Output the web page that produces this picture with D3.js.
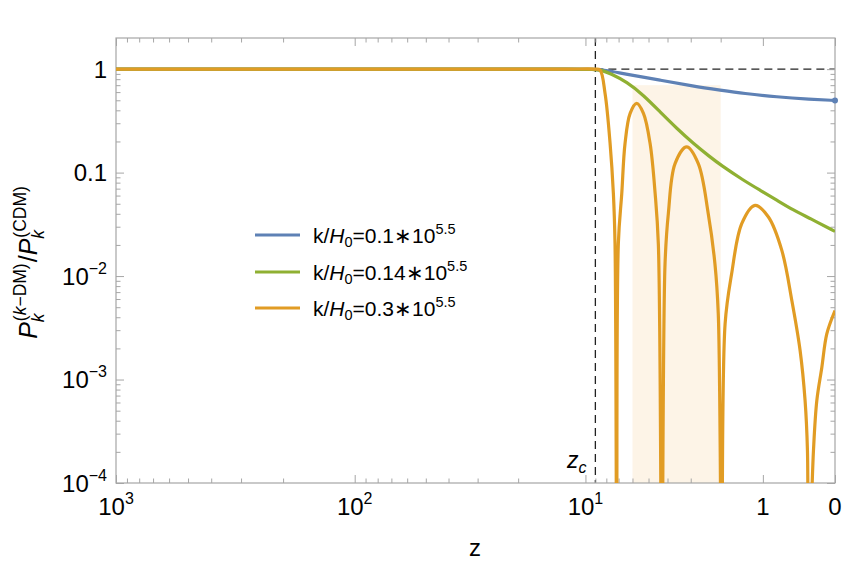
<!DOCTYPE html>
<html><head><meta charset="utf-8">
<script src="https://cdn.jsdelivr.net/npm/d3@7"></script>
<style>body{margin:0;background:#fff} text{font-family:"Liberation Sans",Arial,sans-serif;fill:#000}</style>
</head><body><svg id="c" width="843" height="569"></svg>
<script>
// ---------- data ----------
const xMajorZ = [1000, 100, 10, 1, 0];
const xMajorBase = ["10", "10", "10", "1", "0"];
const xMajorExp = ["3", "2", "1", "", ""];
const xMinorZ = [900,800,700,600,500,400,300,200,90,80,70,60,50,40,30,20,9,8,7,6,5,4,3,2];
const yMajor = [1, 0.1, 0.01, 0.001, 0.0001];
const yMajorBase = ["1", "0.1", "10", "10", "10"];
const yMajorExp = ["", "", "−2", "−3", "−4"];
const zc = 9;
const bandZ = [6, 2];
const bandTop = 0.7;

const legendK = ["0.1", "0.14", "0.3"];
const colors = ["#5e81b5", "#8fb032", "#e19c24"];

const blueZ = [1000, 100, 20, 12, 9, 8, 6.39, 4.37, 2.90, 1.99, 1.41, 0.749, 0.27, 0];
const blueV = [1, 1, 1, 1, 1, 0.975, 0.89, 0.783, 0.685, 0.626, 0.582, 0.539, 0.512, 0.498];

const greenZ = [1000, 100, 20, 12, 9, 8.4, 7.68, 6.39, 5.30, 4.37, 3.57, 2.90, 2.32, 1.99, 1.41, 1.05, 0.749, 0.50, 0.27, 0];
const greenV = [1, 1, 1, 1, 1, 0.975, 0.909, 0.753, 0.560, 0.386, 0.267, 0.191, 0.1416, 0.1177, 0.0842, 0.0674, 0.0541, 0.0436, 0.0361, 0.027];

const orangeZ = [1000, 100, 20, 12, 9, 8.56, 8.11, 7.68, 7.41, 7.28, 7.14, 7.02, 6.76, 6.52, 6.16, 5.72, 5.30, 4.91, 4.63, 4.46, 4.28,
  4.12, 3.96, 3.65, 3.16, 2.72, 2.38, 2.17, 2.07, 1.97, 1.875, 1.70, 1.45, 1.156, 0.896, 0.667, 0.514, 0.398, 0.333, 0.303,
  0.291, 0.230, 0.191, 0.135, 0.082, 0];
const orangeV = [1, 1, 1, 1, 1, 0.98, 0.582, 0.191, 0.0626, 0.0205, 1e-5, 0.0205, 0.0626, 0.191, 0.373, 0.466, 0.373, 0.191, 0.0626, 0.0205, 1e-5,
  0.01315, 0.0401, 0.1222, 0.177, 0.122, 0.0401, 0.01315, 0.00432, 1e-5, 0.00345, 0.01052, 0.0321, 0.0482, 0.0372, 0.0177, 0.00581, 0.0019, 0.000625, 0.000205,
  1e-5, 0.000205, 0.000625, 0.00131, 0.00276, 0.00464];

// ---------- layout ----------
const L = 116, R = 835, T = 38, B = 483;
const svg = d3.select("#c");
const x = d3.scaleLog().domain([1001, 1]).range([L, R]);   // log(1+z), reversed
const y = d3.scaleLog().domain([1e-4, 2]).range([B, T]);
const X = z => x(1 + z);

svg.append("defs").append("clipPath").attr("id", "clip")
  .append("rect").attr("x", L).attr("y", T).attr("width", R - L).attr("height", B - T);

// band
svg.append("rect").attr("x", X(bandZ[0])).attr("y", y(bandTop))
  .attr("width", X(bandZ[1]) - X(bandZ[0])).attr("height", B - y(bandTop))
  .attr("fill", "#fdf4e7");

// dashed reference lines
svg.append("line").attr("x1", X(zc)).attr("x2", X(zc)).attr("y1", T).attr("y2", B)
  .attr("stroke", "#222").attr("stroke-width", 1.3).attr("stroke-dasharray", "8,5");
svg.append("line").attr("x1", X(zc)).attr("x2", R).attr("y1", y(1)).attr("y2", y(1))
  .attr("stroke", "#222").attr("stroke-width", 1.3).attr("stroke-dasharray", "8,5");

// frame + ticks
const frameCol = "#a6a6a6";
function styleAxis(g) {
  g.select(".domain").remove();
  g.selectAll("line").attr("stroke", frameCol);
  g.selectAll("text").remove();
}
const xMinorVals = xMinorZ.map(z => 1 + z), xMajorVals = xMajorZ.map(z => 1 + z);
svg.append("g").attr("transform", `translate(0,${B})`).call(d3.axisBottom(x).tickValues(xMajorVals).tickSizeInner(-8).tickSizeOuter(0)).call(styleAxis);
svg.append("g").attr("transform", `translate(0,${B})`).call(d3.axisBottom(x).tickValues(xMinorVals).tickSizeInner(-4.5).tickSizeOuter(0)).call(styleAxis);
svg.append("g").attr("transform", `translate(0,${T})`).call(d3.axisTop(x).tickValues(xMajorVals).tickSizeInner(-8).tickSizeOuter(0)).call(styleAxis);
svg.append("g").attr("transform", `translate(0,${T})`).call(d3.axisTop(x).tickValues(xMinorVals).tickSizeInner(-4.5).tickSizeOuter(0)).call(styleAxis);
const yMinorVals = y.ticks().filter(v => !yMajor.some(m => Math.abs(m - v) / v < 1e-6) && v < 1.01);
svg.append("g").attr("transform", `translate(${L},0)`).call(d3.axisLeft(y).tickValues(yMajor).tickSizeInner(-8).tickSizeOuter(0)).call(styleAxis);
svg.append("g").attr("transform", `translate(${L},0)`).call(d3.axisLeft(y).tickValues(yMinorVals).tickSizeInner(-4.5).tickSizeOuter(0)).call(styleAxis);
svg.append("g").attr("transform", `translate(${R},0)`).call(d3.axisRight(y).tickValues(yMajor).tickSizeInner(-8).tickSizeOuter(0)).call(styleAxis);
svg.append("g").attr("transform", `translate(${R},0)`).call(d3.axisRight(y).tickValues(yMinorVals).tickSizeInner(-4.5).tickSizeOuter(0)).call(styleAxis);
svg.append("rect").attr("x", L).attr("y", T).attr("width", R - L).attr("height", B - T)
  .attr("fill", "none").attr("stroke", frameCol).attr("stroke-width", 1.2);

// tick labels
xMajorZ.forEach((z, i) => {
  const t = svg.append("text").attr("x", X(z)).attr("y", 515).attr("text-anchor", "middle").attr("font-size", 24);
  t.append("tspan").text(xMajorBase[i]);
  if (xMajorExp[i]) t.append("tspan").attr("font-size", 16).attr("dy", -11).text(xMajorExp[i]);
});
yMajor.forEach((v, i) => {
  const t = svg.append("text").attr("x", 107).attr("y", y(v) + 8.5).attr("text-anchor", "end").attr("font-size", 24);
  t.append("tspan").text(yMajorBase[i]);
  if (yMajorExp[i]) t.append("tspan").attr("font-size", 16).attr("dy", -11).text(yMajorExp[i]);
});

// curves
const smoothLine = d3.line().x(d => X(d[0])).y(d => y(d[1])).curve(d3.curveBasis);
const cuspLine = d3.line().x(d => X(d[0])).y(d => y(d[1])).curve(d3.curveCatmullRom.alpha(0.5));
const series = [
  blueZ.map((z, i) => [z, blueV[i]]),
  greenZ.map((z, i) => [z, greenV[i]]),
  orangeZ.map((z, i) => [z, orangeV[i]])
];
const gc = svg.append("g").attr("clip-path", "url(#clip)");
series.forEach((s, i) => {
  gc.append("path").attr("d", (i < 2 ? smoothLine : cuspLine)(s)).attr("fill", "none").attr("stroke", colors[i])
    .attr("stroke-width", 3.2).attr("stroke-linejoin", "round");
});
svg.append("circle").attr("cx", X(blueZ[blueZ.length - 1])).attr("cy", y(blueV[blueV.length - 1]))
  .attr("r", 3).attr("fill", colors[0]);

// legend
const legY = [235, 272, 308];
legendK.forEach((k, i) => {
  svg.append("line").attr("x1", 255).attr("x2", 300).attr("y1", legY[i]).attr("y2", legY[i])
    .attr("stroke", colors[i]).attr("stroke-width", 3.2);
  const t = svg.append("text").attr("x", 313).attr("y", legY[i] + 7.5).attr("font-size", 21);
  t.append("tspan").text("k/");
  t.append("tspan").attr("font-style", "italic").text("H");
  t.append("tspan").attr("font-size", 14.5).attr("dy", 4.5).text("0");
  t.append("tspan").attr("dy", -4.5).text("=" + k + "∗10");
  t.append("tspan").attr("font-size", 14.5).attr("dy", -9).text("5.5");
});

// z_c label
const zt = svg.append("text").attr("x", 567).attr("y", 468).attr("font-size", 23).attr("font-style", "italic");
zt.append("tspan").text("z");
zt.append("tspan").attr("font-size", 16).attr("dy", 5).text("c");

// x label
svg.append("text").attr("x", 475).attr("y", 556).attr("text-anchor", "middle").attr("font-size", 24).text("z");

// y label
const yl = svg.append("g").attr("transform", "translate(37,262) rotate(-90)");
const inner = yl.append("g");
let cx = 0;
const FS = 25, SS = 17.5;
function mainP(str, italic) {
  const t = inner.append("text").attr("x", cx).attr("y", 0).attr("font-size", FS).text(str);
  if (italic) t.attr("font-style", "italic");
  cx += t.node().getComputedTextLength();
}
function scripts(parts) {
  const sup = inner.append("text").attr("x", cx + 1).attr("y", -11.5).attr("font-size", SS);
  parts.forEach(p => { const s = sup.append("tspan").text(p[0]); if (p[1]) s.attr("font-style", "italic"); });
  const sub = inner.append("text").attr("x", cx).attr("y", 7).attr("font-size", SS).attr("font-style", "italic").text("k");
  cx += Math.max(sup.node().getComputedTextLength() + 1, sub.node().getComputedTextLength()) + 1;
}
mainP("P", true);
scripts([["(", false], ["k", true], ["−DM)", false]]);
mainP("/", false);
mainP("P", true);
scripts([["(CDM)", false]]);
inner.attr("transform", `translate(${-cx / 2},0)`);
</script></body></html>
